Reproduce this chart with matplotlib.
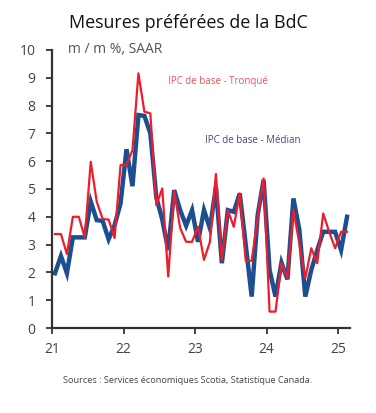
import matplotlib
matplotlib.use("Agg")
import matplotlib.pyplot as plt
import numpy as np

plt.rcParams['font.family'] = ['Open Sans', 'DejaVu Sans']

# Monthly data, Jan 2021 - Feb 2025 (m/m %, SAAR)
tronque = [3.38, 3.38, 2.66, 4.0, 4.0, 3.25, 5.98, 4.55, 3.92, 3.9, 3.24, 5.86,
           5.86, 6.4, 9.16, 7.78, 7.72, 4.42, 5.02, 1.85, 4.93, 3.6, 3.1, 3.1,
           3.64, 2.45, 3.1, 5.54, 2.45, 4.24, 3.64, 4.84, 2.42, 2.42, 3.95, 5.38,
           0.59, 0.59, 2.33, 1.8, 4.24, 3.04, 1.79, 2.87, 2.33, 4.12, 3.46, 2.87,
           3.46, 3.46]
median = [1.97, 2.59, 1.97, 3.26, 3.26, 3.26, 4.55, 3.88, 3.85, 3.19, 3.7, 4.48,
          6.43, 5.1, 7.66, 7.63, 7.0, 4.7, 3.9, 2.8, 4.96, 4.24, 3.68, 4.24,
          3.1, 4.24, 3.58, 5.08, 2.33, 4.24, 4.18, 4.84, 3.0, 1.13, 4.05, 5.33,
          2.09, 1.13, 2.35, 1.75, 4.66, 3.53, 1.13, 2.09, 2.8, 3.46, 3.46, 3.46,
          2.8, 4.0]
year_ticks = [0, 12, 24, 36, 48]
year_labels = ['21', '22', '23', '24', '25']
y_ticks = list(range(0, 11))

fig = plt.figure(figsize=(3.76, 4.13), dpi=100)
ax = fig.add_axes([0.1383, 0.2058, 0.7926, 0.6732])

x = np.arange(len(median)) + 0.5
ax.plot(x, median, color='#1d4e8f', lw=3.2, solid_joinstyle='miter', zorder=2)
ax.plot(x, tronque, color='#ee1d2b', lw=1.6, zorder=3)

ax.set_xlim(0, 50)
ax.set_ylim(0, 10)
ax.set_xticks(year_ticks)
ax.set_xticklabels(year_labels)
ax.set_yticks(y_ticks)

for s in ['top', 'right']:
    ax.spines[s].set_visible(False)
for s in ['left', 'bottom']:
    ax.spines[s].set_color('#333333')
    ax.spines[s].set_linewidth(1.6)
ax.tick_params(axis='both', colors='#333333', labelcolor='#444444',
               labelsize=10, length=4, width=1.3)
ax.tick_params(axis='y', pad=8)
ax.tick_params(axis='x', pad=6)

ax.text(0.055, 1.0, 'm / m %, SAAR', transform=ax.transAxes, ha='left', va='center',
        fontsize=10, color='#555555')
ax.text(0.39, 0.887, 'IPC de base - Tronqué', transform=ax.transAxes, ha='left',
        va='center', fontsize=7, color='#f0505a')
ax.text(0.515, 0.675, 'IPC de base - Médian', transform=ax.transAxes, ha='left',
        va='center', fontsize=7, color='#3d4a7a')

fig.text(0.5, 0.945, 'Mesures préférées de la BdC', ha='center', va='center',
         fontsize=12.9, color='#111111')
fig.text(0.5, 0.079, 'Sources : Services économiques Scotia, Statistique Canada.',
         ha='center', va='center', fontsize=6.6, color='#444444')

fig.savefig('out.png', dpi=100)
